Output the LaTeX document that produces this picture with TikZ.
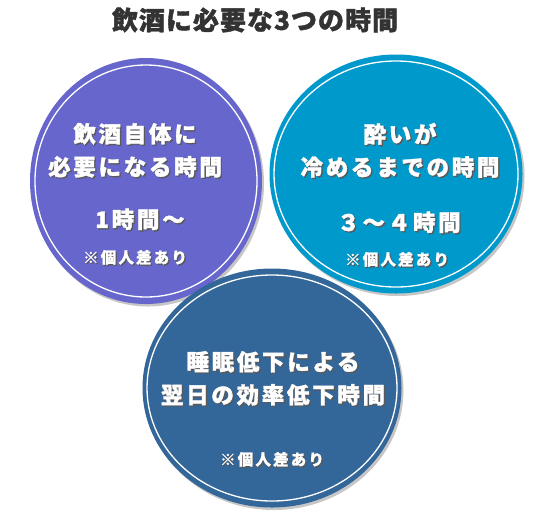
\documentclass[tikz,border=0pt]{standalone}
\usepackage{fontspec}
\setmainfont{Noto Sans CJK JP}
\usetikzlibrary{shapes.geometric,shadows}

\definecolor{discpurple}{HTML}{6666CC}
\definecolor{discteal}{HTML}{0099CC}
\definecolor{discnavy}{HTML}{336699}
\definecolor{titlegray}{HTML}{333333}

% white text with a small dark shadow
\newcommand{\shtext}[1]{\leavevmode\rlap{\hspace{1.3pt}\raisebox{-1.3pt}{\color{black!65}#1}}#1}

\begin{document}
\begin{tikzpicture}[x=1pt, y=-1pt,
    disc/.style={ellipse, draw=none, inner sep=0pt,
        drop shadow={shadow xshift=2pt, shadow yshift=-2.5pt, opacity=.45}},
    ring/.style={draw=white, line width=1.3pt},
    head/.style={text=white, align=center, inner sep=0pt,
        font=\bfseries\addfontfeatures{LetterSpace=12,FakeBold=1.5}\fontsize{22.5}{33}\selectfont},
    note/.style={text=white, inner sep=0pt,
        font=\bfseries\addfontfeatures{LetterSpace=14,FakeBold=1}\fontsize{15.5}{18}\selectfont},
]
\useasboundingbox (0,0) rectangle (534,515);

% title
\node[text=titlegray, inner sep=0pt,
      font=\bfseries\addfontfeatures{LetterSpace=4,FakeBold=1.5}\fontsize{26}{28}\selectfont]
     (title) at (255,20) {飲酒に必要な3つの時間};

% three discs
\node[disc, fill=discpurple, minimum width=232pt, minimum height=246pt] (drink) at (146,181) {};
\node[disc, fill=discteal,   minimum width=253pt, minimum height=239pt] (sober) at (396,174) {};
\node[disc, fill=discnavy,   minimum width=259pt, minimum height=239pt] (sleep) at (272,388) {};

\draw[ring] (drink.center) ellipse [x radius=111, y radius=116];
\draw[ring] (sober.center) ellipse [x radius=122, y radius=113];
\draw[ring] (sleep.center) ellipse [x radius=125, y radius=113];

% purple disc texts
\node[head] (drinkhead) at (135,151) {\shtext{飲酒自体に}\\\shtext{必要になる時間}};
\node[head] (drinktime) at (140,220) {\shtext{1時間～}};
\node[note] (drinknote) at (135,258) {\shtext{※個人差あり}};

% teal disc texts
\node[head] (soberhead) at (400,151) {\shtext{酔いが}\\\shtext{冷めるまでの時間}};
\node[head] (sobertime) at (399,223) {\shtext{３～４時間}};
\node[note] (sobernote) at (397,260) {\shtext{※個人差あり}};

% navy disc texts
\node[head] (sleephead) at (273,379) {\shtext{睡眠低下による}\\\shtext{翌日の効率低下時間}};
\node[note] (sleepnote) at (272,460) {\shtext{※個人差あり}};

\end{tikzpicture}
\end{document}
